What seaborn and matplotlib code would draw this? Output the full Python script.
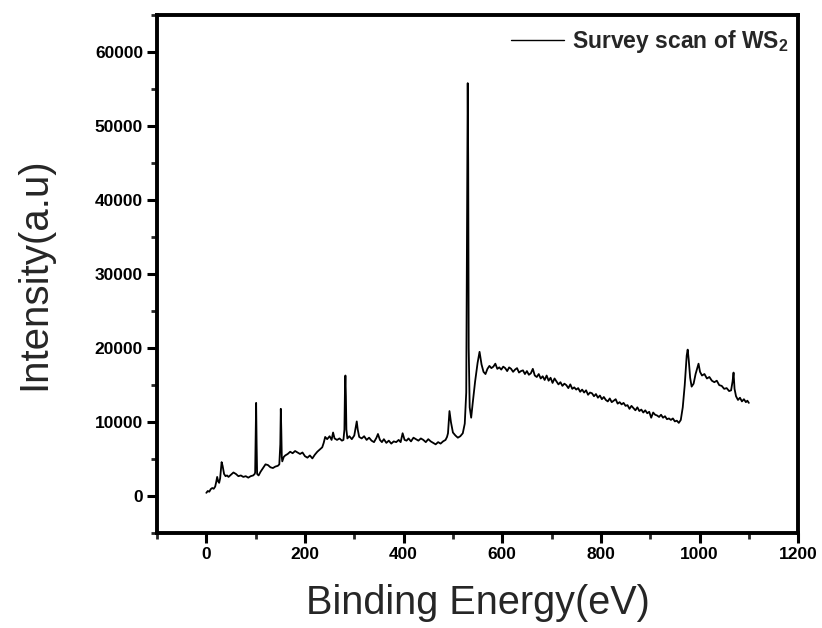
import numpy as np
import pandas as pd
import matplotlib
matplotlib.use("Agg")
import matplotlib.pyplot as plt
import seaborn as sns
from matplotlib.ticker import MultipleLocator

# XPS survey spectrum of WS2
energy_low = [0, 3, 6, 9, 12, 15, 18, 20, 22, 24, 26, 28, 30, 31, 33, 36, 39, 42, 45,
              50, 55, 60, 65, 70, 75, 80, 85, 90, 95, 98]
counts_low = [450, 700, 600, 950, 1100, 1000, 1300, 1900, 2600, 2000, 1800, 2400, 3800, 4600, 4100,
              3000, 2700, 2800, 2600, 2900, 3200, 3000, 2700, 2800, 2600, 2700, 2500, 2700, 2800, 3000]

energy_w = [99, 100, 101, 102, 103, 106, 110, 115, 120, 125, 130, 135, 140, 145, 148,
            150, 151, 152, 153, 154, 157]
counts_w = [3200, 8000, 12600, 7000, 3000, 2800, 3300, 3800, 4300, 4200, 3900, 3800, 4000, 4100, 4300,
            7000, 11800, 9000, 5300, 4700, 5300]

energy_mid = [160, 165, 170, 175, 180, 185, 190, 195, 200, 205, 210, 215, 220, 225, 230,
              235, 238, 241, 245, 250, 254, 257, 260, 265, 270, 275]
counts_mid = [5500, 5700, 6000, 5800, 6100, 5900, 5700, 5900, 5400, 5200, 5500, 5100, 5600, 6000, 6300,
              6600, 7200, 8000, 7700, 8100, 7600, 8600, 7800, 7600, 7800, 7500]

energy_c = [278, 280, 281, 282, 283, 284, 286, 290, 295, 300, 303, 305, 307, 310, 315,
            320, 325, 330]
counts_c = [7600, 9000, 14000, 16300, 13500, 9000, 7800, 8100, 7700, 8200, 9300, 10100, 9000, 8000, 7800,
            8100, 7600, 7900]

energy_flat = [335, 340, 345, 348, 352, 356, 360, 365, 370, 375, 380, 385, 390, 394, 398,
               402, 406, 410, 415, 420, 425, 430, 435, 440, 445, 450, 455, 460, 465, 470,
               475, 480, 485, 488]
counts_flat = [7500, 7300, 7900, 8400, 7600, 7300, 7700, 7200, 7500, 7100, 7400, 7300, 7600, 7300, 8500,
               7600, 7500, 7800, 7400, 7900, 7700, 7500, 7800, 7600, 7300, 7700, 7400, 7200, 7000, 7300,
               7100, 7400, 7600, 8000]

energy_o = [490, 493, 496, 500, 505, 510, 515, 520, 524, 527, 529, 530, 531, 532, 534,
            537, 540, 545, 550, 554, 558, 562, 566]
counts_o = [8500, 11500, 10000, 8600, 8200, 7900, 8100, 8500, 9800, 14000, 40000, 55800, 45000, 20000, 12000,
            10600, 12500, 15500, 18000, 19500, 17800, 16800, 16500]

energy_tail = [570, 574, 578, 582, 586, 590, 594, 598, 602, 606, 610, 614, 618, 622, 626,
               630, 634, 638, 642, 646, 650, 654, 658, 662, 666, 670, 674, 678, 682, 686,
               690, 694, 698, 702, 706, 710, 714, 718, 722, 726, 730, 734, 738, 742, 746,
               750, 754, 758, 762, 766, 770, 774, 778, 782, 786, 790, 794, 798, 802, 806,
               810, 814, 818, 822, 826, 830, 834, 838, 842, 846, 850, 854, 858, 862, 866,
               870, 874, 878, 882, 886, 890, 894, 898, 902, 906, 910, 914, 918, 922, 926,
               930, 934, 938, 942, 946, 950, 954, 958]
counts_tail = [17200, 17600, 17300, 17500, 17900, 17200, 17400, 17100, 17500, 17300, 16900, 17400, 17200, 16800, 17100,
               17300, 16700, 16900, 17000, 16500, 16900, 16400, 16600, 17200, 16300, 16100, 16500, 15900, 16200, 15700,
               16300, 15600, 16000, 15300, 15900, 15500, 15100, 15400, 14900, 15200, 15000, 14600, 15100, 14500, 14700,
               14400, 14600, 14100, 14400, 14000, 14300, 13700, 14000, 13900, 13500, 13800, 13300, 13600, 13100, 13400,
               13000, 12800, 13200, 12700, 12900, 13100, 12500, 12700, 12400, 12600, 12200, 12300, 11800, 12200, 11900,
               11600, 12000, 11500, 11700, 11300, 11600, 11200, 11400, 10600, 11300, 11000, 10900, 10700, 11000, 10600,
               10800, 10400, 10500, 10300, 10500, 10100, 10200, 9900]

energy_high = [962, 966, 970, 974, 976, 978, 981, 984, 988, 992, 996, 998, 1001, 1005, 1010,
               1015, 1020, 1025, 1030, 1035, 1040, 1045, 1050, 1055, 1060, 1064, 1067, 1069, 1071, 1074,
               1078, 1082, 1086, 1090, 1094, 1097, 1100]
counts_high = [10300, 12000, 15000, 19000, 19800, 18500, 16000, 14800, 15200, 16500, 17400, 17900, 16800, 16300, 16500,
               15900, 16100, 15600, 15400, 15600, 15000, 14900, 14500, 14600, 14200, 14300, 15500, 16700, 14500, 13500,
               13000, 13300, 12800, 13100, 12700, 12900, 12600]

energy = energy_low + energy_w + energy_mid + energy_c + energy_flat + energy_o + energy_tail + energy_high
counts = counts_low + counts_w + counts_mid + counts_c + counts_flat + counts_o + counts_tail + counts_high

df = pd.DataFrame({"Binding Energy": energy, "Intensity": counts})

sns.set_theme(style="ticks")
plt.rcParams["font.family"] = ["Liberation Sans", "DejaVu Sans"]
plt.rcParams["mathtext.fontset"] = "custom"
plt.rcParams["mathtext.bf"] = "Liberation Sans:bold"
plt.rcParams["mathtext.rm"] = "Liberation Sans:bold"

fig = plt.figure(figsize=(8.22, 6.28), dpi=100)
ax = fig.add_axes([0.191, 0.151, 0.780, 0.825])

sns.lineplot(data=df, x="Binding Energy", y="Intensity", ax=ax, color="black",
             linewidth=1.3, sort=False, estimator=None,
             label=r"Survey scan of WS$_\mathbf{2}$")

ax.set_xlim(-100, 1200)
ax.set_ylim(-5000, 65000)
ax.xaxis.set_major_locator(MultipleLocator(200))
ax.xaxis.set_minor_locator(MultipleLocator(100))
ax.yaxis.set_major_locator(MultipleLocator(10000))
ax.yaxis.set_minor_locator(MultipleLocator(5000))

for side in ["left", "bottom", "top", "right"]:
    ax.spines[side].set_linewidth(2.8)
    ax.spines[side].set_color("black")

ax.tick_params(which="major", direction="out", length=7, width=2.2, pad=3,
               labelsize=12.5, colors="black")
ax.tick_params(which="minor", direction="out", length=4, width=2.0)
for lab in ax.get_xticklabels() + ax.get_yticklabels():
    lab.set_fontweight("bold")

ax.set_xlabel("Binding Energy(eV)", fontsize=28.5, labelpad=16)
ax.set_ylabel("Intensity(a.u)", fontsize=29, labelpad=30)

leg = ax.legend(loc="upper right", bbox_to_anchor=(0.985, 0.975), frameon=False,
                handlelength=2.3, handletextpad=0.35, borderpad=0, borderaxespad=0,
                prop={"size": 16.5, "weight": "bold"})
for line in leg.get_lines():
    line.set_linewidth(1.0)

fig.savefig("out.png", dpi=100)
